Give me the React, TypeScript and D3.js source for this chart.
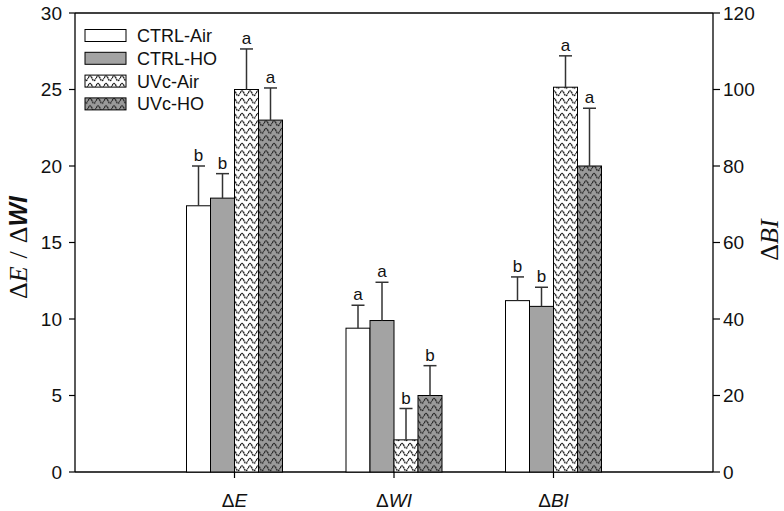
import React from "react";
import * as d3 from "d3";

const categories = ["E", "WI", "BI"];
const series = ["CTRL-Air", "CTRL-HO", "UVc-Air", "UVc-HO"];
const ctrlAir = [17.4, 9.4, 44.8];
const ctrlAirErr = [2.6, 1.5, 6.2];
const ctrlHO = [17.9, 9.9, 43.3];
const ctrlHOErr = [1.6, 2.5, 5.0];
const uvcAir = [25.0, 2.1, 100.6];
const uvcAirErr = [2.65, 2.05, 8.2];
const uvcHO = [23.0, 5.0, 80.0];
const uvcHOErr = [2.1, 1.95, 15.1];
const ctrlAirLetters = ["b", "a", "b"];
const ctrlHOLetters = ["b", "a", "b"];
const uvcAirLetters = ["a", "b", "a"];
const uvcHOLetters = ["a", "b", "a"];
const leftTicks = [0, 5, 10, 15, 20, 25, 30];
const rightTicks = [0, 20, 40, 60, 80, 100, 120];

const values = [ctrlAir, ctrlHO, uvcAir, uvcHO];
const errors = [ctrlAirErr, ctrlHOErr, uvcAirErr, uvcHOErr];
const letters = [ctrlAirLetters, ctrlHOLetters, uvcAirLetters, uvcHOLetters];
const fills = ["#ffffff", "#a3a3a3", "url(#waveW)", "url(#waveG)"];

const W = 784, H = 511;
const L = 75, R = 713, T = 13, B = 472;
const SANS = "'Liberation Sans', Arial, sans-serif";
const SERIF = "'Liberation Serif', 'Times New Roman', serif";

export default function App() {
  const x = d3.scalePoint<string>().domain(categories).range([L, R]).padding(1);
  const inner = d3.scaleBand<string>().domain(series).range([-48, 48]).paddingInner(0);
  const yL = d3.scaleLinear().domain([0, 30]).range([B, T]);
  const yR = d3.scaleLinear().domain([0, 120]).range([B, T]);
  const yFor = (ci: number) => (ci === 2 ? yR : yL);

  const wave = "M0,3.8 C1.3,0.6 2.7,0.6 4,3.8 C5.3,7 6.7,7 8,3.8";

  return (
    <svg width={W} height={H} style={{ position: "absolute", left: 0, top: 0, background: "#fff" }}>
      <defs>
        <pattern id="waveW" patternUnits="userSpaceOnUse" width={8} height={7.5} y={B}>
          <rect width={8} height={7.5} fill="#fff" />
          <path d={wave} fill="none" stroke="#111" strokeWidth={1.4} strokeDasharray="1.8 0.6" />
        </pattern>
        <pattern id="waveG" patternUnits="userSpaceOnUse" width={8} height={7.5} y={B}>
          <rect width={8} height={7.5} fill="#9a9a9a" />
          <path d={wave} fill="none" stroke="#222" strokeWidth={1.4} strokeDasharray="1.8 0.6" />
        </pattern>
      </defs>

      {/* frame */}
      <line x1={L} x2={R} y1={T} y2={T} stroke="#000" strokeWidth={1.5} />
      <line x1={L} x2={R} y1={B} y2={B} stroke="#000" strokeWidth={1.5} />
      <line x1={L} x2={L} y1={T} y2={B} stroke="#000" strokeWidth={1.3} />
      <line x1={R} x2={R} y1={T} y2={B} stroke="#000" strokeWidth={1.3} />

      {/* left ticks */}
      {leftTicks.map((t) => (
        <g key={"l" + t}>
          <line x1={L - 6} x2={L} y1={yL(t)} y2={yL(t)} stroke="#000" strokeWidth={1.2} />
          <text x={L - 13} y={yL(t)} dy="0.35em" textAnchor="end" fontFamily={SANS} fontSize={19} fill="#111">
            {t}
          </text>
        </g>
      ))}
      {/* right ticks */}
      {rightTicks.map((t) => (
        <g key={"r" + t}>
          <line x1={R} x2={R + 7} y1={yR(t)} y2={yR(t)} stroke="#000" strokeWidth={1.2} />
          <text x={R + 10} y={yR(t)} dy="0.35em" textAnchor="start" fontFamily={SANS} fontSize={19} fill="#111">
            {t}
          </text>
        </g>
      ))}

      {/* bars */}
      {categories.map((c, ci) => (
        <g key={c}>
          {series.map((s, si) => {
            const y = yFor(ci);
            const v = values[si][ci];
            const e = errors[si][ci];
            const x0 = (x(c) as number) + (inner(s) as number);
            const bw = inner.bandwidth();
            const cx = x0 + bw / 2;
            return (
              <g key={s}>
                <rect x={x0} y={y(v)} width={bw} height={B - y(v)} fill={fills[si]} stroke="#000" strokeWidth={1} />
                <line x1={cx} x2={cx} y1={y(v)} y2={y(v + e)} stroke="#333" strokeWidth={1.5} />
                <line x1={cx - 6.5} x2={cx + 6.5} y1={y(v + e)} y2={y(v + e)} stroke="#333" strokeWidth={1.5} />
                <text x={cx} y={y(v + e) - 5} textAnchor="middle" fontFamily={SANS} fontSize={17} fill="#111">
                  {letters[si][ci]}
                </text>
              </g>
            );
          })}
          <line x1={x(c)} x2={x(c)} y1={B} y2={B + 6} stroke="#000" strokeWidth={1.2} />
          <text x={x(c)} y={507} textAnchor="middle" fontFamily={SANS} fontSize={19} fill="#111">
            Δ<tspan fontStyle="italic">{c}</tspan>
          </text>
        </g>
      ))}

      {/* legend */}
      {series.map((s, si) => {
        const ly = 29.5 + si * 22.8;
        return (
          <g key={"lg" + s}>
            <rect x={85} y={ly} width={41} height={12} fill={fills[si]} stroke="#000" strokeWidth={1} />
            <text x={137} y={ly + 6} dy="0.36em" fontFamily={SANS} fontSize={18} fill="#111">
              {s}
            </text>
          </g>
        );
      })}

      {/* axis titles */}
      <text
        transform={`translate(27,${(T + B) / 2 + 5}) rotate(-90)`}
        textAnchor="middle"
        fontFamily={SERIF}
        fontSize={26}
        fill="#111"
      >
        Δ<tspan fontStyle="italic">E</tspan>
        <tspan dx={8} fontWeight="normal">/</tspan>
        <tspan dx={8}>Δ</tspan>
        <tspan fontFamily={SANS} fontStyle="italic" fontWeight="bold" fontSize={25}>WI</tspan>
      </text>
      <text
        transform={`translate(778,240) rotate(-90)`}
        textAnchor="middle"
        fontFamily={SERIF}
        fontSize={26}
        fill="#111"
      >
        Δ<tspan fontStyle="italic">BI</tspan>
      </text>
    </svg>
  );
}
